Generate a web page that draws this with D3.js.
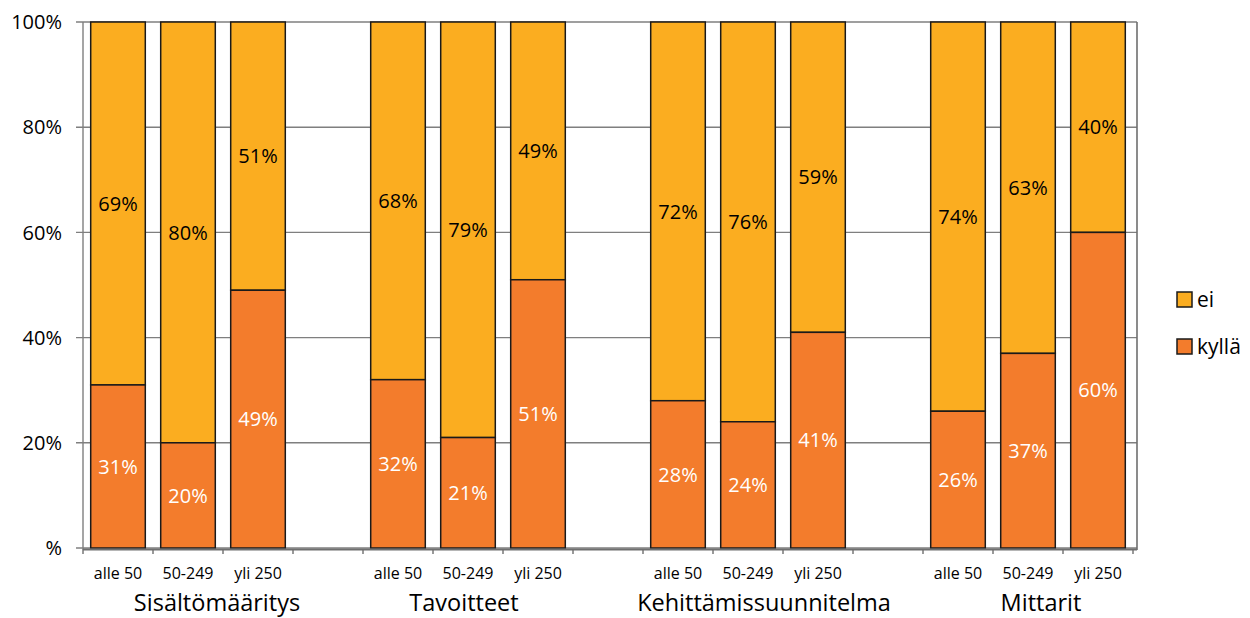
<!DOCTYPE html>
<html>
<head>
<meta charset="utf-8">
<script src="https://cdn.jsdelivr.net/npm/d3@7"></script>
<style>
  html, body { margin: 0; padding: 0; background: #fff; }
  svg { display: block; }
  text { font-family: "Open Sans", "Noto Sans", sans-serif; fill: #000; }
</style>
</head>
<body>
<svg id="chart" width="1250" height="618"></svg>
<script>
// Development areas and company size classes
const groups = ["Sisältömääritys", "Tavoitteet", "Kehittämissuunnitelma", "Mittarit"];
const sizes = ["alle 50", "50-249", "yli 250"];
// Share of answers per bar, in the order groups x sizes
const kylla = [31, 20, 49, 32, 21, 51, 28, 24, 41, 26, 37, 60];
const ei    = [69, 80, 51, 68, 79, 49, 72, 76, 59, 74, 63, 40];
const yTicks = [0, 20, 40, 60, 80, 100];
const yTickLabels = ["%", "20%", "40%", "60%", "80%", "100%"];
const seriesNames = ["ei", "kyllä"];
// Horizontal nudge of each group title relative to its middle bar
const groupTitleNudge = [29, -4, 16, 13];

const colors = { "ei": "#FBAD20", "kyllä": "#F37C2C" };

const svg = d3.select("#chart");
const plotLeft = 83, plotRight = 1133, frameRight = 1137, plotTop = 22, plotBottom = 548;

// One slot per bar plus an empty slot between groups
const slots = [];
groups.forEach((g, gi) => {
  sizes.forEach((s, si) => slots.push(gi + "|" + si));
  if (gi < groups.length - 1) slots.push(gi + "|gap");
});

const x = d3.scaleBand().domain(slots).range([plotLeft, plotRight])
  .paddingInner(0.22).paddingOuter(0.11);
const y = d3.scaleLinear().domain([0, 100]).range([plotBottom, plotTop]);

// Horizontal gridlines
svg.append("g").selectAll("line").data(yTicks).join("line")
  .attr("x1", plotLeft - 7).attr("x2", frameRight)
  .attr("y1", d => y(d)).attr("y2", d => y(d))
  .attr("stroke", "#7f7f7f").attr("stroke-width", 1.4);

// Left and right frame lines
svg.append("line").attr("x1", plotLeft).attr("x2", plotLeft)
  .attr("y1", plotTop).attr("y2", plotBottom + 2)
  .attr("stroke", "#7f7f7f").attr("stroke-width", 1.4);
svg.append("line").attr("x1", frameRight).attr("x2", frameRight)
  .attr("y1", plotTop).attr("y2", plotBottom + 2)
  .attr("stroke", "#6f6f6f").attr("stroke-width", 1.6);

// Y tick labels
svg.append("g").selectAll("text").data(yTicks).join("text")
  .attr("x", 62).attr("y", d => y(d))
  .attr("dy", "0.36em")
  .attr("text-anchor", "end")
  .attr("font-size", 20)
  .text((d, i) => yTickLabels[i]);

// Bars
const bars = [];
groups.forEach((g, gi) => sizes.forEach((s, si) => {
  const i = gi * sizes.length + si;
  bars.push({ key: gi + "|" + si, size: s, kylla: kylla[i], ei: ei[i] });
}));

const barG = svg.append("g").selectAll("g").data(bars).join("g");

barG.append("rect")
  .attr("x", d => x(d.key)).attr("width", x.bandwidth())
  .attr("y", d => y(d.kylla + d.ei)).attr("height", d => y(d.kylla) - y(d.kylla + d.ei))
  .attr("fill", colors["ei"]).attr("stroke", "#1a1a1a").attr("stroke-width", 1.5);

barG.append("rect")
  .attr("x", d => x(d.key)).attr("width", x.bandwidth())
  .attr("y", d => y(d.kylla)).attr("height", d => y(0) - y(d.kylla))
  .attr("fill", colors["kyllä"]).attr("stroke", "#1a1a1a").attr("stroke-width", 1.5);

// Value labels centred in each segment
barG.append("text")
  .attr("x", d => x(d.key) + x.bandwidth() / 2)
  .attr("y", d => y(d.kylla + d.ei / 2))
  .attr("dy", "0.36em").attr("text-anchor", "middle")
  .attr("font-size", 20)
  .text(d => d.ei + "%");

barG.append("text")
  .attr("x", d => x(d.key) + x.bandwidth() / 2)
  .attr("y", d => y(d.kylla / 2))
  .attr("dy", "0.36em").attr("text-anchor", "middle")
  .attr("font-size", 20)
  .style("fill", "#fff")
  .text(d => d.kylla + "%");

// X axis baseline with slot ticks
svg.append("line").attr("x1", plotLeft).attr("x2", frameRight)
  .attr("y1", plotBottom + 1.5).attr("y2", plotBottom + 1.5)
  .attr("stroke", "#6f6f6f").attr("stroke-width", 2);
const step = x.step();
const tickXs = d3.range(slots.length + 1).map(i => plotLeft + i * step);
svg.append("g").selectAll("line").data(tickXs).join("line")
  .attr("x1", d => d).attr("x2", d => d)
  .attr("y1", plotBottom + 1.5).attr("y2", plotBottom + 6)
  .attr("stroke", "#6f6f6f").attr("stroke-width", 1.4);

// Size class labels
svg.append("g").selectAll("text").data(bars).join("text")
  .attr("x", d => x(d.key) + x.bandwidth() / 2)
  .attr("y", 579)
  .attr("text-anchor", "middle")
  .attr("font-size", 16)
  .text(d => d.size);

// Group titles
svg.append("g").selectAll("text").data(groups).join("text")
  .attr("x", (g, gi) => x(gi + "|1") + x.bandwidth() / 2 + groupTitleNudge[gi])
  .attr("y", 611)
  .attr("text-anchor", "middle")
  .attr("font-size", 23.5)
  .text(g => g);

// Legend
const legend = svg.append("g").selectAll("g").data(seriesNames).join("g")
  .attr("transform", (d, i) => `translate(1177, ${292 + i * 47})`);
legend.append("rect")
  .attr("width", 15).attr("height", 15)
  .attr("fill", d => colors[d]).attr("stroke", "#1a1a1a").attr("stroke-width", 1.5);
legend.append("text")
  .attr("x", 20).attr("y", 15)
  .attr("font-size", 21)
  .text(d => d);
</script>
</body>
</html>
